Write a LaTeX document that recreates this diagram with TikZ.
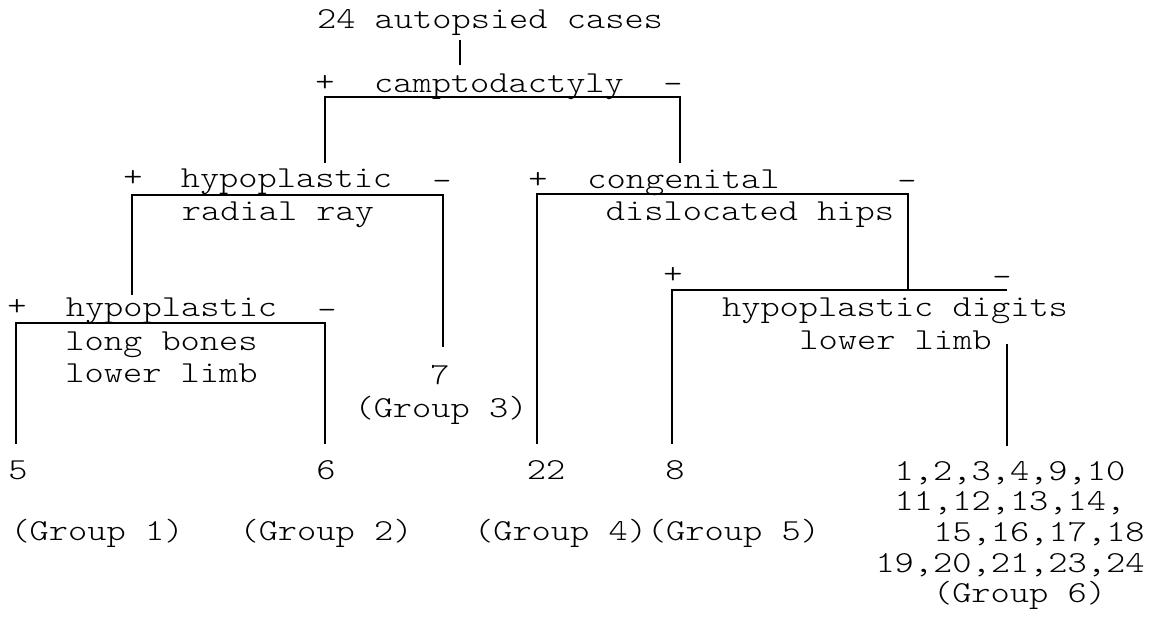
\documentclass[tikz,border=0pt]{standalone}
\usepackage{fontspec}
\setmonofont{lmmonolt10-regular.otf}[FakeStretch=1.2]
\begin{document}
\begin{tikzpicture}[x=1pt,y=-1pt,
  tw/.style={font=\ttfamily\fontsize{30.5}{30.5}\selectfont, inner sep=0pt, anchor=base},
  branch/.style={line width=2.4pt, line cap=butt, line join=miter}]
\useasboundingbox[fill=white] (0,0) rectangle (1157,616);

% ---- root and first split ----
\node[tw] (root)   at (490,28)  {24 autopsied cases};
\node[tw] (campto) at (499,92)  {camptodactyly};
\node[tw] (cP)     at (325,91)  {+};
\node[tw] (cM)     at (673,93)  {-};

% ---- second level, left ----
\node[tw] (ray1)   at (286.5,187) {hypoplastic};
\node[tw] (ray2)   at (278,220)   {radial ray};
\node[tw] (rP)     at (133,186)   {+};
\node[tw] (rM)     at (442,190)   {-};

% ---- second level, right ----
\node[tw] (hip1)   at (683.5,188) {congenital};
\node[tw] (hip2)   at (750,220)   {dislocated hips};
\node[tw] (hP)     at (538,188)   {+};
\node[tw] (hM)     at (907,190)   {-};

% ---- third level, left ----
\node[tw] (lb1)    at (171.5,316) {hypoplastic};
\node[tw] (lb2)    at (161.5,350) {long bones};
\node[tw] (lb3)    at (161.5,382) {lower limb};
\node[tw] (lP)     at (17,315)    {+};
\node[tw] (lM)     at (327,319)   {-};

% ---- third level, right ----
\node[tw] (dg1)    at (895,316)   {hypoplastic digits};
\node[tw] (dg2)    at (895.5,349) {lower limb};
\node[tw] (dP)     at (673,283)   {+};
\node[tw] (dM)     at (1002,286)  {-};

% ---- outcomes ----
\node[tw] (n7)     at (440,384)   {7};
\node[tw] (g3)     at (441,417)   {(Group 3)};
\node[tw] (n5)     at (18,479)    {5};
\node[tw] (n6)     at (326,479)   {6};
\node[tw] (n22)    at (546,479)   {22};
\node[tw] (n8)     at (675,479)   {8};
\node[tw] (g1)     at (97,540)    {(Group 1)};
\node[tw] (g2)     at (326,540)   {(Group 2)};
\node[tw] (g45)    at (647,540)   {(Group 4)(Group 5)};
\node[tw] (r1)     at (1010,480)  {1,2,3,4,9,10};
\node[tw] (r2)     at (1010,510.5){11,12,13,14,};
\node[tw] (r3)     at (1039,541)  {15,16,17,18};
\node[tw] (r4)     at (1010,572)  {19,20,21,23,24};
\node[tw] (g6)     at (1019.5,602){(Group 6)};

% ---- branch points ----
\coordinate (s0a) at (460,40);  \coordinate (s0b) at (460,65);
\coordinate (b1a) at (325,163); \coordinate (b1b) at (325,97);
\coordinate (b1c) at (680,97);  \coordinate (b1d) at (680,163);
\coordinate (b2a) at (132,295); \coordinate (b2b) at (132,195);
\coordinate (b2c) at (443,195); \coordinate (b2d) at (443,347);
\coordinate (b3a) at (537,444); \coordinate (b3b) at (537,194);
\coordinate (b3c) at (908,194); \coordinate (b3d) at (908,290);
\coordinate (b4a) at (16,444);  \coordinate (b4b) at (16,323);
\coordinate (b4c) at (325,323); \coordinate (b4d) at (325,444);
\coordinate (b5a) at (672,444); \coordinate (b5b) at (672,290);
\coordinate (b5c) at (1007,290);
\coordinate (b5d) at (1007,344); \coordinate (b5e) at (1007,446);

% ---- branches ----
\draw[branch] (s0a) -- (s0b);
\draw[branch] (b1a) -- (b1b) -- (b1c) -- (b1d);
\draw[branch] (b2a) -- (b2b) -- (b2c) -- (b2d);
\draw[branch] (b3a) -- (b3b) -- (b3c) -- (b3d);
\draw[branch] (b4a) -- (b4b) -- (b4c) -- (b4d);
\draw[branch] (b5a) -- (b5b) -- (b5c);
\draw[branch] (b5d) -- (b5e);
\end{tikzpicture}
\end{document}
